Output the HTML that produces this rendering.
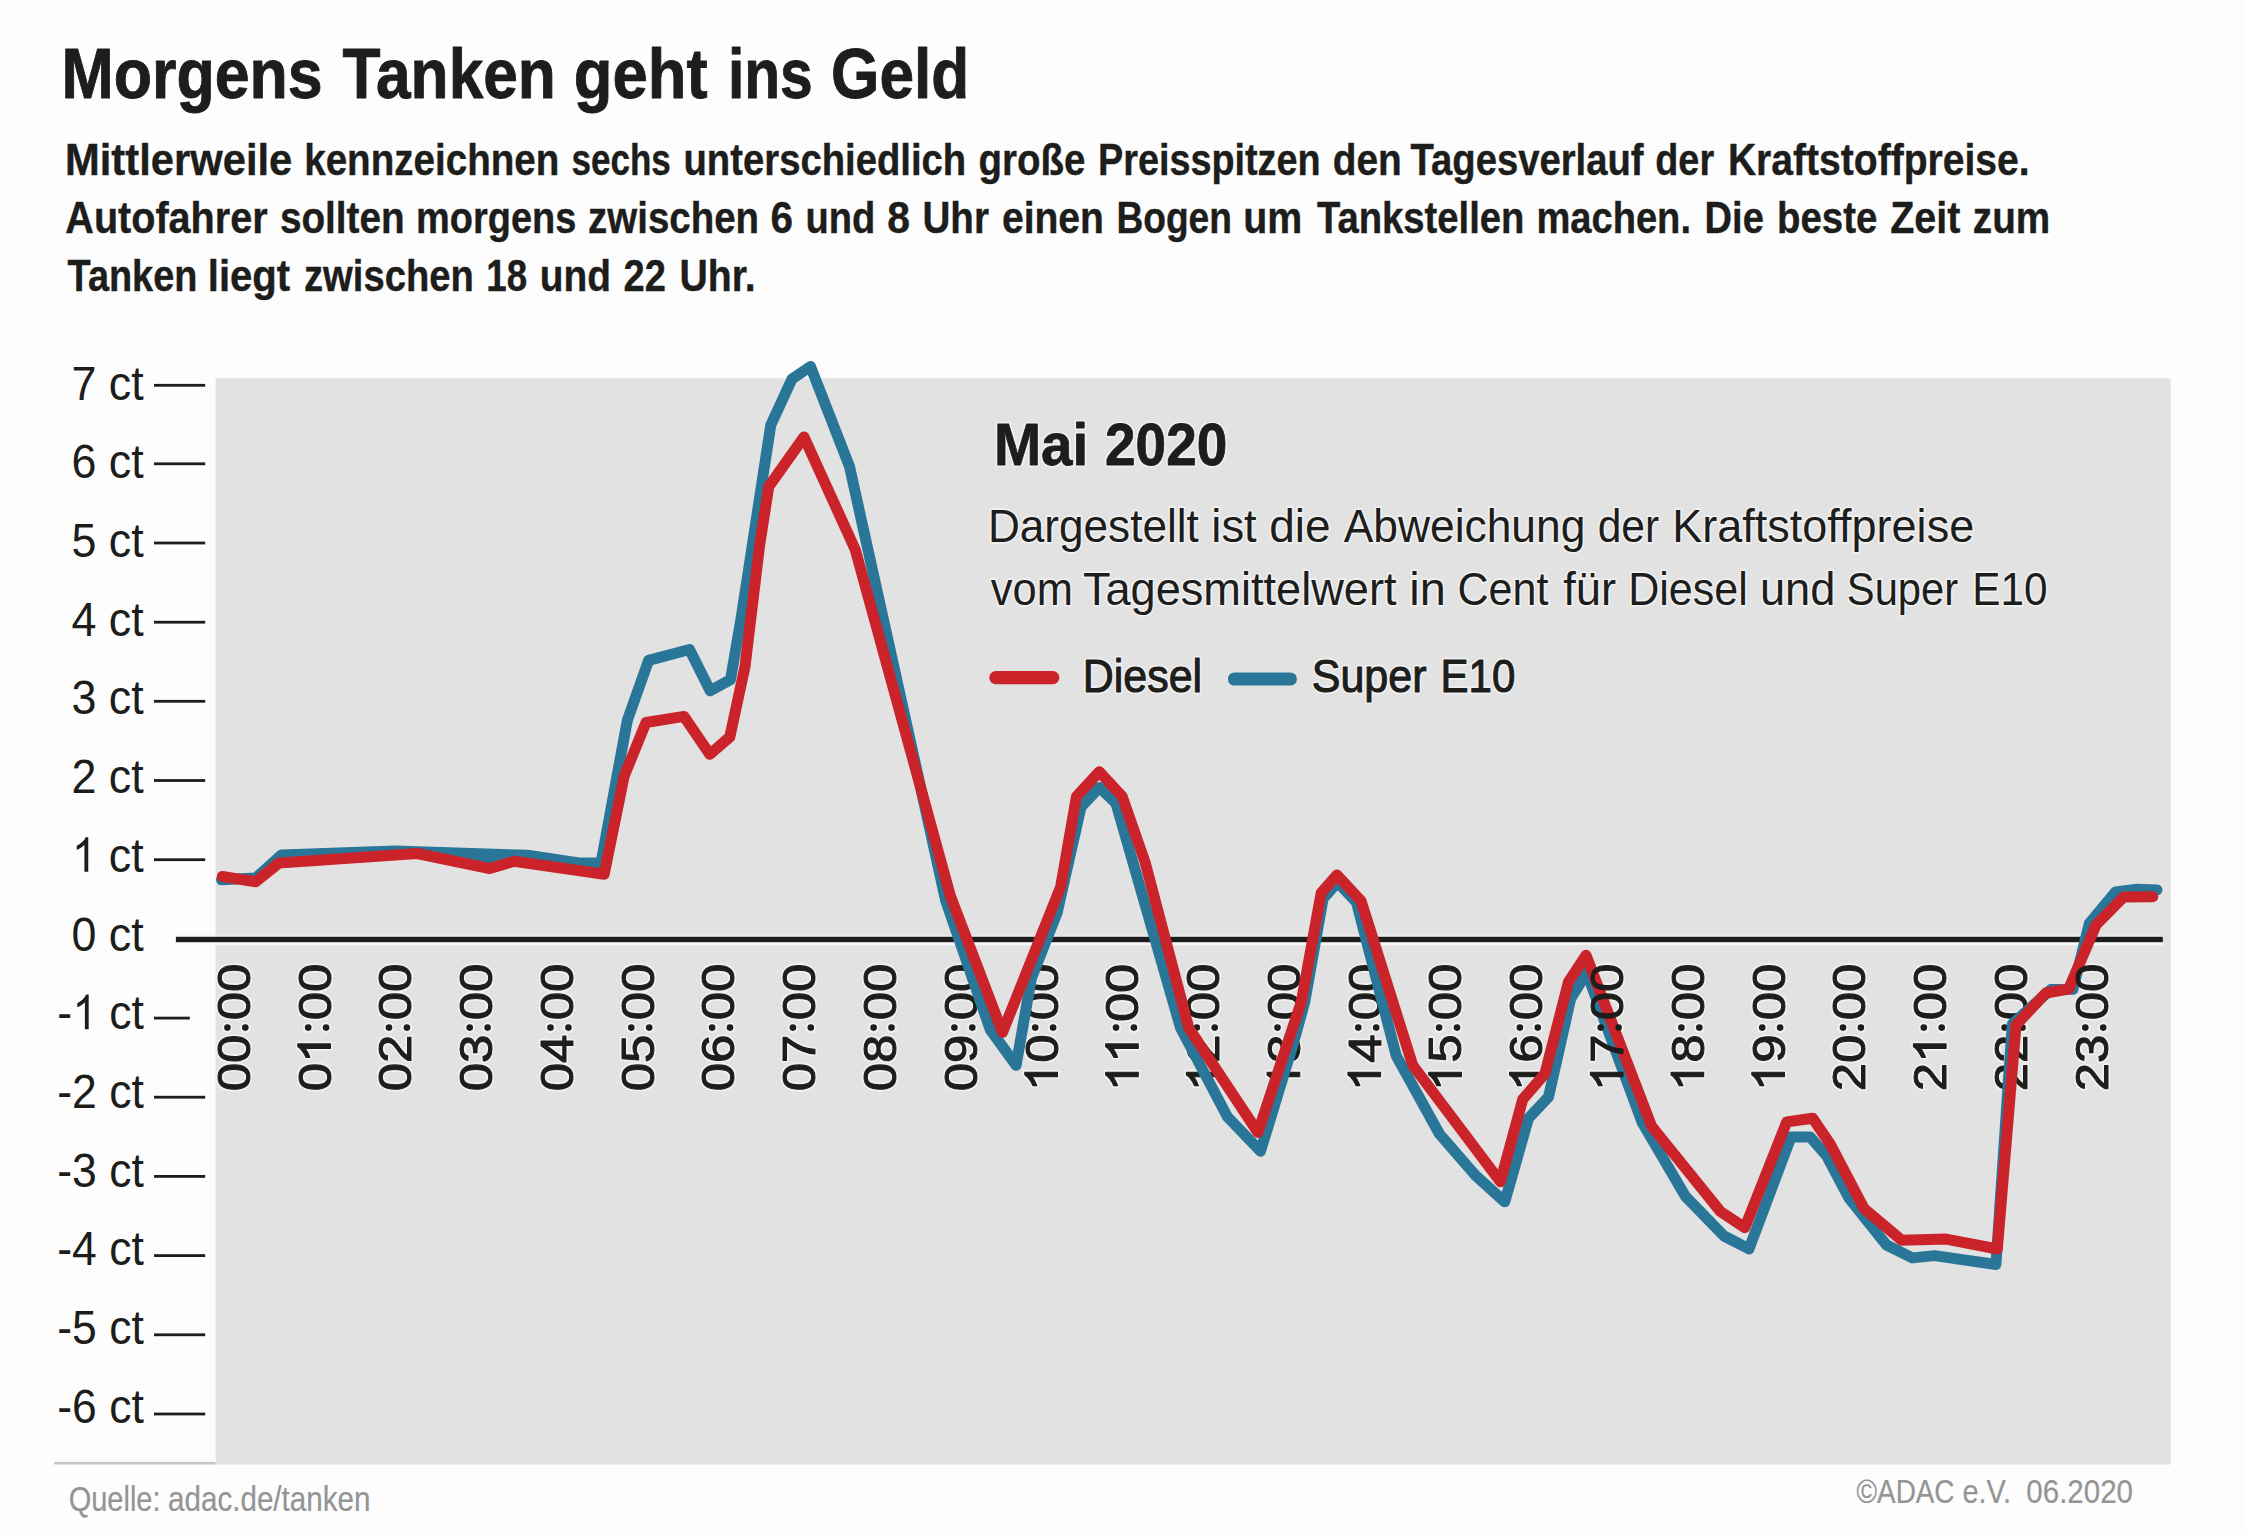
<!DOCTYPE html>
<html lang="de"><head><meta charset="utf-8"><title>Morgens Tanken geht ins Geld</title>
<style>
html,body{margin:0;padding:0;background:#fdfdfd;}
body{width:2244px;height:1535px;overflow:hidden;}
svg{display:block;}
text{font-family:"Liberation Sans",sans-serif;fill:#1d1d1b;stroke-linejoin:round;}
.b{font-weight:bold;}
.yl{font-size:48.3px;}
.xl{font-size:45.5px;stroke:#1d1d1b;stroke-width:1px;}
.xh{font-size:45.5px;}
.ft{fill:#949494;}
</style></head><body>
<svg width="2244" height="1535" viewBox="0 0 2244 1535">
<rect x="0" y="0" width="2244" height="1535" fill="#fdfdfd"/>
<rect x="215.6" y="378.3" width="1955.0" height="1086.2" fill="#e2e2e2"/>
<rect x="54.1" y="1461.9" width="161.6" height="2.6" fill="#c6c6c6"/>
<text class="b" x="61.5" y="98.2" font-size="71" textLength="261.2" lengthAdjust="spacingAndGlyphs" stroke="#1d1d1b" stroke-width="0.9">Morgens</text>
<text class="b" x="342.6" y="98.2" font-size="71" textLength="213.3" lengthAdjust="spacingAndGlyphs" stroke="#1d1d1b" stroke-width="0.9">Tanken</text>
<text class="b" x="573.7" y="98.2" font-size="71" textLength="133.8" lengthAdjust="spacingAndGlyphs" stroke="#1d1d1b" stroke-width="0.9">geht</text>
<text class="b" x="727.9" y="98.2" font-size="71" textLength="84.9" lengthAdjust="spacingAndGlyphs" stroke="#1d1d1b" stroke-width="0.9">ins</text>
<text class="b" x="831.1" y="98.2" font-size="71" textLength="138.2" lengthAdjust="spacingAndGlyphs" stroke="#1d1d1b" stroke-width="0.9">Geld</text>
<text class="b" x="65.0" y="175.3" font-size="43.5" textLength="227.3" lengthAdjust="spacingAndGlyphs" stroke="#1d1d1b" stroke-width="0.4">Mittlerweile</text>
<text class="b" x="304.2" y="175.3" font-size="43.5" textLength="255.2" lengthAdjust="spacingAndGlyphs" stroke="#1d1d1b" stroke-width="0.4">kennzeichnen</text>
<text class="b" x="571.4" y="175.3" font-size="43.5" textLength="99.4" lengthAdjust="spacingAndGlyphs" stroke="#1d1d1b" stroke-width="0.4">sechs</text>
<text class="b" x="683.5" y="175.3" font-size="43.5" textLength="282.7" lengthAdjust="spacingAndGlyphs" stroke="#1d1d1b" stroke-width="0.4">unterschiedlich</text>
<text class="b" x="978.5" y="175.3" font-size="43.5" textLength="106.8" lengthAdjust="spacingAndGlyphs" stroke="#1d1d1b" stroke-width="0.4">große</text>
<text class="b" x="1098.0" y="175.3" font-size="43.5" textLength="222.5" lengthAdjust="spacingAndGlyphs" stroke="#1d1d1b" stroke-width="0.4">Preisspitzen</text>
<text class="b" x="1332.7" y="175.3" font-size="43.5" textLength="69.0" lengthAdjust="spacingAndGlyphs" stroke="#1d1d1b" stroke-width="0.4">den</text>
<text class="b" x="1410.5" y="175.3" font-size="43.5" textLength="233.1" lengthAdjust="spacingAndGlyphs" stroke="#1d1d1b" stroke-width="0.4">Tagesverlauf</text>
<text class="b" x="1655.3" y="175.3" font-size="43.5" textLength="58.8" lengthAdjust="spacingAndGlyphs" stroke="#1d1d1b" stroke-width="0.4">der</text>
<text class="b" x="1727.9" y="175.3" font-size="43.5" textLength="301.8" lengthAdjust="spacingAndGlyphs" stroke="#1d1d1b" stroke-width="0.4">Kraftstoffpreise.</text>
<text class="b" x="65.3" y="233.1" font-size="43.5" textLength="202.3" lengthAdjust="spacingAndGlyphs" stroke="#1d1d1b" stroke-width="0.4">Autofahrer</text>
<text class="b" x="279.9" y="233.1" font-size="43.5" textLength="124.8" lengthAdjust="spacingAndGlyphs" stroke="#1d1d1b" stroke-width="0.4">sollten</text>
<text class="b" x="416.1" y="233.1" font-size="43.5" textLength="160.2" lengthAdjust="spacingAndGlyphs" stroke="#1d1d1b" stroke-width="0.4">morgens</text>
<text class="b" x="588.1" y="233.1" font-size="43.5" textLength="170.9" lengthAdjust="spacingAndGlyphs" stroke="#1d1d1b" stroke-width="0.4">zwischen</text>
<text class="b" x="770.4" y="233.1" font-size="43.5" textLength="22.5" lengthAdjust="spacingAndGlyphs" stroke="#1d1d1b" stroke-width="0.4">6</text>
<text class="b" x="805.5" y="233.1" font-size="43.5" textLength="69.8" lengthAdjust="spacingAndGlyphs" stroke="#1d1d1b" stroke-width="0.4">und</text>
<text class="b" x="887.3" y="233.1" font-size="43.5" textLength="22.7" lengthAdjust="spacingAndGlyphs" stroke="#1d1d1b" stroke-width="0.4">8</text>
<text class="b" x="922.5" y="233.1" font-size="43.5" textLength="66.4" lengthAdjust="spacingAndGlyphs" stroke="#1d1d1b" stroke-width="0.4">Uhr</text>
<text class="b" x="1001.9" y="233.1" font-size="43.5" textLength="102.1" lengthAdjust="spacingAndGlyphs" stroke="#1d1d1b" stroke-width="0.4">einen</text>
<text class="b" x="1116.4" y="233.1" font-size="43.5" textLength="115.5" lengthAdjust="spacingAndGlyphs" stroke="#1d1d1b" stroke-width="0.4">Bogen</text>
<text class="b" x="1243.3" y="233.1" font-size="43.5" textLength="59.0" lengthAdjust="spacingAndGlyphs" stroke="#1d1d1b" stroke-width="0.4">um</text>
<text class="b" x="1316.9" y="233.1" font-size="43.5" textLength="207.5" lengthAdjust="spacingAndGlyphs" stroke="#1d1d1b" stroke-width="0.4">Tankstellen</text>
<text class="b" x="1536.4" y="233.1" font-size="43.5" textLength="154.6" lengthAdjust="spacingAndGlyphs" stroke="#1d1d1b" stroke-width="0.4">machen.</text>
<text class="b" x="1704.6" y="233.1" font-size="43.5" textLength="59.2" lengthAdjust="spacingAndGlyphs" stroke="#1d1d1b" stroke-width="0.4">Die</text>
<text class="b" x="1777.0" y="233.1" font-size="43.5" textLength="100.3" lengthAdjust="spacingAndGlyphs" stroke="#1d1d1b" stroke-width="0.4">beste</text>
<text class="b" x="1890.2" y="233.1" font-size="43.5" textLength="70.1" lengthAdjust="spacingAndGlyphs" stroke="#1d1d1b" stroke-width="0.4">Zeit</text>
<text class="b" x="1972.8" y="233.1" font-size="43.5" textLength="77.4" lengthAdjust="spacingAndGlyphs" stroke="#1d1d1b" stroke-width="0.4">zum</text>
<text class="b" x="67.6" y="291.0" font-size="43.5" textLength="129.8" lengthAdjust="spacingAndGlyphs" stroke="#1d1d1b" stroke-width="0.4">Tanken</text>
<text class="b" x="207.8" y="291.0" font-size="43.5" textLength="82.4" lengthAdjust="spacingAndGlyphs" stroke="#1d1d1b" stroke-width="0.4">liegt</text>
<text class="b" x="304.0" y="291.0" font-size="43.5" textLength="169.8" lengthAdjust="spacingAndGlyphs" stroke="#1d1d1b" stroke-width="0.4">zwischen</text>
<text class="b" x="486.3" y="291.0" font-size="43.5" textLength="40.8" lengthAdjust="spacingAndGlyphs" stroke="#1d1d1b" stroke-width="0.4">18</text>
<text class="b" x="539.7" y="291.0" font-size="43.5" textLength="71.2" lengthAdjust="spacingAndGlyphs" stroke="#1d1d1b" stroke-width="0.4">und</text>
<text class="b" x="623.5" y="291.0" font-size="43.5" textLength="42.3" lengthAdjust="spacingAndGlyphs" stroke="#1d1d1b" stroke-width="0.4">22</text>
<text class="b" x="679.4" y="291.0" font-size="43.5" textLength="76.3" lengthAdjust="spacingAndGlyphs" stroke="#1d1d1b" stroke-width="0.4">Uhr.</text>
<text class="yl" x="71.4" y="399.6" textLength="72.3" lengthAdjust="spacingAndGlyphs">7 ct</text>
<rect x="154" y="383.9" width="51.2" height="2.8" fill="#1d1d1b"/>
<text class="yl" x="71.4" y="478.3" textLength="72.3" lengthAdjust="spacingAndGlyphs">6 ct</text>
<rect x="154" y="462.4" width="51.2" height="2.8" fill="#1d1d1b"/>
<text class="yl" x="71.4" y="557.0" textLength="72.3" lengthAdjust="spacingAndGlyphs">5 ct</text>
<rect x="154" y="541.6" width="51.2" height="2.8" fill="#1d1d1b"/>
<text class="yl" x="71.4" y="635.7" textLength="72.3" lengthAdjust="spacingAndGlyphs">4 ct</text>
<rect x="154" y="620.8" width="51.2" height="2.8" fill="#1d1d1b"/>
<text class="yl" x="71.4" y="714.4" textLength="72.3" lengthAdjust="spacingAndGlyphs">3 ct</text>
<rect x="154" y="699.9" width="51.2" height="2.8" fill="#1d1d1b"/>
<text class="yl" x="71.4" y="793.1" textLength="72.3" lengthAdjust="spacingAndGlyphs">2 ct</text>
<rect x="154" y="779.1" width="51.2" height="2.8" fill="#1d1d1b"/>
<path d="M763 0L583 0L583 1147Q518 1085 412.5 1023Q307 961 223 930L223 1104Q374 1175 487 1276Q600 1377 647 1472L763 1472Z" transform="translate(72.04,871.86) scale(0.02125,-0.02358)" fill="#1d1d1b"/>
<text class="yl" x="71.4" y="871.9" textLength="72.3" lengthAdjust="spacingAndGlyphs"><tspan style="fill:none;stroke:none">1</tspan> ct</text>
<rect x="154" y="858.3" width="51.2" height="2.8" fill="#1d1d1b"/>
<text class="yl" x="71.4" y="950.6" textLength="72.3" lengthAdjust="spacingAndGlyphs">0 ct</text>
<path d="M763 0L583 0L583 1147Q518 1085 412.5 1023Q307 961 223 930L223 1104Q374 1175 487 1276Q600 1377 647 1472L763 1472Z" transform="translate(72.59,1029.28) scale(0.02109,-0.02358)" fill="#1d1d1b"/>
<text class="yl" x="57.2" y="1029.3" textLength="86.6" lengthAdjust="spacingAndGlyphs">-<tspan style="fill:none;stroke:none">1</tspan> ct</text>
<rect x="154" y="1016.7" width="35.8" height="2.8" fill="#1d1d1b"/>
<text class="yl" x="57.2" y="1108.0" textLength="86.6" lengthAdjust="spacingAndGlyphs">-2 ct</text>
<rect x="154" y="1095.8" width="51.2" height="2.8" fill="#1d1d1b"/>
<text class="yl" x="57.2" y="1186.7" textLength="86.6" lengthAdjust="spacingAndGlyphs">-3 ct</text>
<rect x="154" y="1175.0" width="51.2" height="2.8" fill="#1d1d1b"/>
<text class="yl" x="57.2" y="1265.4" textLength="86.6" lengthAdjust="spacingAndGlyphs">-4 ct</text>
<rect x="154" y="1254.2" width="51.2" height="2.8" fill="#1d1d1b"/>
<text class="yl" x="57.2" y="1344.1" textLength="86.6" lengthAdjust="spacingAndGlyphs">-5 ct</text>
<rect x="154" y="1333.4" width="51.2" height="2.8" fill="#1d1d1b"/>
<text class="yl" x="57.2" y="1422.8" textLength="86.6" lengthAdjust="spacingAndGlyphs">-6 ct</text>
<rect x="154" y="1412.6" width="51.2" height="2.8" fill="#1d1d1b"/>
<g transform="translate(249.7,1091.2) rotate(-90)" stroke="#f4f4f4" stroke-width="4.2" stroke-linejoin="round" opacity="0.85" fill="#f4f4f4"><text class="xh" x="0" y="0" textLength="127.5" lengthAdjust="spacingAndGlyphs">00<tspan style="fill:none;stroke:none">:</tspan>00</text><circle cx="63.6" cy="-22.3" r="3.3"/><circle cx="63.6" cy="-4.4" r="3.3"/></g>
<g transform="translate(330.5,1091.2) rotate(-90)" stroke="#f4f4f4" stroke-width="4.2" stroke-linejoin="round" opacity="0.85" fill="#f4f4f4"><path d="M763 0L583 0L583 1147Q518 1085 412.5 1023Q307 961 223 930L223 1104Q374 1175 487 1276Q600 1377 647 1472L763 1472Z" transform="translate(28.33,0.00) scale(0.02488,-0.02222)"   stroke-width="189" stroke-linejoin="round"/><text class="xh" x="0" y="0" textLength="127.5" lengthAdjust="spacingAndGlyphs">0<tspan style="fill:none;stroke:none">1</tspan><tspan style="fill:none;stroke:none">:</tspan>00</text><circle cx="63.6" cy="-22.3" r="3.3"/><circle cx="63.6" cy="-4.4" r="3.3"/></g>
<g transform="translate(411.3,1091.2) rotate(-90)" stroke="#f4f4f4" stroke-width="4.2" stroke-linejoin="round" opacity="0.85" fill="#f4f4f4"><text class="xh" x="0" y="0" textLength="127.5" lengthAdjust="spacingAndGlyphs">02<tspan style="fill:none;stroke:none">:</tspan>00</text><circle cx="63.6" cy="-22.3" r="3.3"/><circle cx="63.6" cy="-4.4" r="3.3"/></g>
<g transform="translate(492.0,1091.2) rotate(-90)" stroke="#f4f4f4" stroke-width="4.2" stroke-linejoin="round" opacity="0.85" fill="#f4f4f4"><text class="xh" x="0" y="0" textLength="127.5" lengthAdjust="spacingAndGlyphs">03<tspan style="fill:none;stroke:none">:</tspan>00</text><circle cx="63.6" cy="-22.3" r="3.3"/><circle cx="63.6" cy="-4.4" r="3.3"/></g>
<g transform="translate(572.8,1091.2) rotate(-90)" stroke="#f4f4f4" stroke-width="4.2" stroke-linejoin="round" opacity="0.85" fill="#f4f4f4"><text class="xh" x="0" y="0" textLength="127.5" lengthAdjust="spacingAndGlyphs">04<tspan style="fill:none;stroke:none">:</tspan>00</text><circle cx="63.6" cy="-22.3" r="3.3"/><circle cx="63.6" cy="-4.4" r="3.3"/></g>
<g transform="translate(653.6,1091.2) rotate(-90)" stroke="#f4f4f4" stroke-width="4.2" stroke-linejoin="round" opacity="0.85" fill="#f4f4f4"><text class="xh" x="0" y="0" textLength="127.5" lengthAdjust="spacingAndGlyphs">05<tspan style="fill:none;stroke:none">:</tspan>00</text><circle cx="63.6" cy="-22.3" r="3.3"/><circle cx="63.6" cy="-4.4" r="3.3"/></g>
<g transform="translate(734.4,1091.2) rotate(-90)" stroke="#f4f4f4" stroke-width="4.2" stroke-linejoin="round" opacity="0.85" fill="#f4f4f4"><text class="xh" x="0" y="0" textLength="127.5" lengthAdjust="spacingAndGlyphs">06<tspan style="fill:none;stroke:none">:</tspan>00</text><circle cx="63.6" cy="-22.3" r="3.3"/><circle cx="63.6" cy="-4.4" r="3.3"/></g>
<g transform="translate(815.2,1091.2) rotate(-90)" stroke="#f4f4f4" stroke-width="4.2" stroke-linejoin="round" opacity="0.85" fill="#f4f4f4"><text class="xh" x="0" y="0" textLength="127.5" lengthAdjust="spacingAndGlyphs">07<tspan style="fill:none;stroke:none">:</tspan>00</text><circle cx="63.6" cy="-22.3" r="3.3"/><circle cx="63.6" cy="-4.4" r="3.3"/></g>
<g transform="translate(895.9,1091.2) rotate(-90)" stroke="#f4f4f4" stroke-width="4.2" stroke-linejoin="round" opacity="0.85" fill="#f4f4f4"><text class="xh" x="0" y="0" textLength="127.5" lengthAdjust="spacingAndGlyphs">08<tspan style="fill:none;stroke:none">:</tspan>00</text><circle cx="63.6" cy="-22.3" r="3.3"/><circle cx="63.6" cy="-4.4" r="3.3"/></g>
<g transform="translate(976.7,1091.2) rotate(-90)" stroke="#f4f4f4" stroke-width="4.2" stroke-linejoin="round" opacity="0.85" fill="#f4f4f4"><text class="xh" x="0" y="0" textLength="127.5" lengthAdjust="spacingAndGlyphs">09<tspan style="fill:none;stroke:none">:</tspan>00</text><circle cx="63.6" cy="-22.3" r="3.3"/><circle cx="63.6" cy="-4.4" r="3.3"/></g>
<g transform="translate(1057.5,1091.2) rotate(-90)" stroke="#f4f4f4" stroke-width="4.2" stroke-linejoin="round" opacity="0.85" fill="#f4f4f4"><path d="M763 0L583 0L583 1147Q518 1085 412.5 1023Q307 961 223 930L223 1104Q374 1175 487 1276Q600 1377 647 1472L763 1472Z" transform="translate(0.00,0.00) scale(0.02488,-0.02222)"   stroke-width="189" stroke-linejoin="round"/><text class="xh" x="0" y="0" textLength="127.5" lengthAdjust="spacingAndGlyphs"><tspan style="fill:none;stroke:none">1</tspan>0<tspan style="fill:none;stroke:none">:</tspan>00</text><circle cx="63.6" cy="-22.3" r="3.3"/><circle cx="63.6" cy="-4.4" r="3.3"/></g>
<g transform="translate(1138.3,1091.2) rotate(-90)" stroke="#f4f4f4" stroke-width="4.2" stroke-linejoin="round" opacity="0.85" fill="#f4f4f4"><path d="M763 0L583 0L583 1147Q518 1085 412.5 1023Q307 961 223 930L223 1104Q374 1175 487 1276Q600 1377 647 1472L763 1472Z" transform="translate(0.00,0.00) scale(0.02488,-0.02222)"   stroke-width="189" stroke-linejoin="round"/><path d="M763 0L583 0L583 1147Q518 1085 412.5 1023Q307 961 223 930L223 1104Q374 1175 487 1276Q600 1377 647 1472L763 1472Z" transform="translate(28.33,0.00) scale(0.02488,-0.02222)"   stroke-width="189" stroke-linejoin="round"/><text class="xh" x="0" y="0" textLength="127.5" lengthAdjust="spacingAndGlyphs"><tspan style="fill:none;stroke:none">1</tspan><tspan style="fill:none;stroke:none">1</tspan><tspan style="fill:none;stroke:none">:</tspan>00</text><circle cx="63.6" cy="-22.3" r="3.3"/><circle cx="63.6" cy="-4.4" r="3.3"/></g>
<g transform="translate(1219.1,1091.2) rotate(-90)" stroke="#f4f4f4" stroke-width="4.2" stroke-linejoin="round" opacity="0.85" fill="#f4f4f4"><path d="M763 0L583 0L583 1147Q518 1085 412.5 1023Q307 961 223 930L223 1104Q374 1175 487 1276Q600 1377 647 1472L763 1472Z" transform="translate(0.00,0.00) scale(0.02488,-0.02222)"   stroke-width="189" stroke-linejoin="round"/><text class="xh" x="0" y="0" textLength="127.5" lengthAdjust="spacingAndGlyphs"><tspan style="fill:none;stroke:none">1</tspan>2<tspan style="fill:none;stroke:none">:</tspan>00</text><circle cx="63.6" cy="-22.3" r="3.3"/><circle cx="63.6" cy="-4.4" r="3.3"/></g>
<g transform="translate(1299.8,1091.2) rotate(-90)" stroke="#f4f4f4" stroke-width="4.2" stroke-linejoin="round" opacity="0.85" fill="#f4f4f4"><path d="M763 0L583 0L583 1147Q518 1085 412.5 1023Q307 961 223 930L223 1104Q374 1175 487 1276Q600 1377 647 1472L763 1472Z" transform="translate(0.00,0.00) scale(0.02488,-0.02222)"   stroke-width="189" stroke-linejoin="round"/><text class="xh" x="0" y="0" textLength="127.5" lengthAdjust="spacingAndGlyphs"><tspan style="fill:none;stroke:none">1</tspan>3<tspan style="fill:none;stroke:none">:</tspan>00</text><circle cx="63.6" cy="-22.3" r="3.3"/><circle cx="63.6" cy="-4.4" r="3.3"/></g>
<g transform="translate(1380.6,1091.2) rotate(-90)" stroke="#f4f4f4" stroke-width="4.2" stroke-linejoin="round" opacity="0.85" fill="#f4f4f4"><path d="M763 0L583 0L583 1147Q518 1085 412.5 1023Q307 961 223 930L223 1104Q374 1175 487 1276Q600 1377 647 1472L763 1472Z" transform="translate(0.00,0.00) scale(0.02488,-0.02222)"   stroke-width="189" stroke-linejoin="round"/><text class="xh" x="0" y="0" textLength="127.5" lengthAdjust="spacingAndGlyphs"><tspan style="fill:none;stroke:none">1</tspan>4<tspan style="fill:none;stroke:none">:</tspan>00</text><circle cx="63.6" cy="-22.3" r="3.3"/><circle cx="63.6" cy="-4.4" r="3.3"/></g>
<g transform="translate(1461.4,1091.2) rotate(-90)" stroke="#f4f4f4" stroke-width="4.2" stroke-linejoin="round" opacity="0.85" fill="#f4f4f4"><path d="M763 0L583 0L583 1147Q518 1085 412.5 1023Q307 961 223 930L223 1104Q374 1175 487 1276Q600 1377 647 1472L763 1472Z" transform="translate(0.00,0.00) scale(0.02488,-0.02222)"   stroke-width="189" stroke-linejoin="round"/><text class="xh" x="0" y="0" textLength="127.5" lengthAdjust="spacingAndGlyphs"><tspan style="fill:none;stroke:none">1</tspan>5<tspan style="fill:none;stroke:none">:</tspan>00</text><circle cx="63.6" cy="-22.3" r="3.3"/><circle cx="63.6" cy="-4.4" r="3.3"/></g>
<g transform="translate(1542.2,1091.2) rotate(-90)" stroke="#f4f4f4" stroke-width="4.2" stroke-linejoin="round" opacity="0.85" fill="#f4f4f4"><path d="M763 0L583 0L583 1147Q518 1085 412.5 1023Q307 961 223 930L223 1104Q374 1175 487 1276Q600 1377 647 1472L763 1472Z" transform="translate(0.00,0.00) scale(0.02488,-0.02222)"   stroke-width="189" stroke-linejoin="round"/><text class="xh" x="0" y="0" textLength="127.5" lengthAdjust="spacingAndGlyphs"><tspan style="fill:none;stroke:none">1</tspan>6<tspan style="fill:none;stroke:none">:</tspan>00</text><circle cx="63.6" cy="-22.3" r="3.3"/><circle cx="63.6" cy="-4.4" r="3.3"/></g>
<g transform="translate(1623.0,1091.2) rotate(-90)" stroke="#f4f4f4" stroke-width="4.2" stroke-linejoin="round" opacity="0.85" fill="#f4f4f4"><path d="M763 0L583 0L583 1147Q518 1085 412.5 1023Q307 961 223 930L223 1104Q374 1175 487 1276Q600 1377 647 1472L763 1472Z" transform="translate(0.00,0.00) scale(0.02488,-0.02222)"   stroke-width="189" stroke-linejoin="round"/><text class="xh" x="0" y="0" textLength="127.5" lengthAdjust="spacingAndGlyphs"><tspan style="fill:none;stroke:none">1</tspan>7<tspan style="fill:none;stroke:none">:</tspan>00</text><circle cx="63.6" cy="-22.3" r="3.3"/><circle cx="63.6" cy="-4.4" r="3.3"/></g>
<g transform="translate(1703.7,1091.2) rotate(-90)" stroke="#f4f4f4" stroke-width="4.2" stroke-linejoin="round" opacity="0.85" fill="#f4f4f4"><path d="M763 0L583 0L583 1147Q518 1085 412.5 1023Q307 961 223 930L223 1104Q374 1175 487 1276Q600 1377 647 1472L763 1472Z" transform="translate(0.00,0.00) scale(0.02488,-0.02222)"   stroke-width="189" stroke-linejoin="round"/><text class="xh" x="0" y="0" textLength="127.5" lengthAdjust="spacingAndGlyphs"><tspan style="fill:none;stroke:none">1</tspan>8<tspan style="fill:none;stroke:none">:</tspan>00</text><circle cx="63.6" cy="-22.3" r="3.3"/><circle cx="63.6" cy="-4.4" r="3.3"/></g>
<g transform="translate(1784.5,1091.2) rotate(-90)" stroke="#f4f4f4" stroke-width="4.2" stroke-linejoin="round" opacity="0.85" fill="#f4f4f4"><path d="M763 0L583 0L583 1147Q518 1085 412.5 1023Q307 961 223 930L223 1104Q374 1175 487 1276Q600 1377 647 1472L763 1472Z" transform="translate(0.00,0.00) scale(0.02488,-0.02222)"   stroke-width="189" stroke-linejoin="round"/><text class="xh" x="0" y="0" textLength="127.5" lengthAdjust="spacingAndGlyphs"><tspan style="fill:none;stroke:none">1</tspan>9<tspan style="fill:none;stroke:none">:</tspan>00</text><circle cx="63.6" cy="-22.3" r="3.3"/><circle cx="63.6" cy="-4.4" r="3.3"/></g>
<g transform="translate(1865.3,1091.2) rotate(-90)" stroke="#f4f4f4" stroke-width="4.2" stroke-linejoin="round" opacity="0.85" fill="#f4f4f4"><text class="xh" x="0" y="0" textLength="127.5" lengthAdjust="spacingAndGlyphs">20<tspan style="fill:none;stroke:none">:</tspan>00</text><circle cx="63.6" cy="-22.3" r="3.3"/><circle cx="63.6" cy="-4.4" r="3.3"/></g>
<g transform="translate(1946.1,1091.2) rotate(-90)" stroke="#f4f4f4" stroke-width="4.2" stroke-linejoin="round" opacity="0.85" fill="#f4f4f4"><path d="M763 0L583 0L583 1147Q518 1085 412.5 1023Q307 961 223 930L223 1104Q374 1175 487 1276Q600 1377 647 1472L763 1472Z" transform="translate(28.33,0.00) scale(0.02488,-0.02222)"   stroke-width="189" stroke-linejoin="round"/><text class="xh" x="0" y="0" textLength="127.5" lengthAdjust="spacingAndGlyphs">2<tspan style="fill:none;stroke:none">1</tspan><tspan style="fill:none;stroke:none">:</tspan>00</text><circle cx="63.6" cy="-22.3" r="3.3"/><circle cx="63.6" cy="-4.4" r="3.3"/></g>
<g transform="translate(2026.9,1091.2) rotate(-90)" stroke="#f4f4f4" stroke-width="4.2" stroke-linejoin="round" opacity="0.85" fill="#f4f4f4"><text class="xh" x="0" y="0" textLength="127.5" lengthAdjust="spacingAndGlyphs">22<tspan style="fill:none;stroke:none">:</tspan>00</text><circle cx="63.6" cy="-22.3" r="3.3"/><circle cx="63.6" cy="-4.4" r="3.3"/></g>
<g transform="translate(2107.6,1091.2) rotate(-90)" stroke="#f4f4f4" stroke-width="4.2" stroke-linejoin="round" opacity="0.85" fill="#f4f4f4"><text class="xh" x="0" y="0" textLength="127.5" lengthAdjust="spacingAndGlyphs">23<tspan style="fill:none;stroke:none">:</tspan>00</text><circle cx="63.6" cy="-22.3" r="3.3"/><circle cx="63.6" cy="-4.4" r="3.3"/></g>
<g transform="translate(249.7,1091.2) rotate(-90)"><text class="xl" x="0" y="0" textLength="127.5" lengthAdjust="spacingAndGlyphs">00<tspan style="fill:none;stroke:none">:</tspan>00</text><circle cx="63.6" cy="-22.3" r="3.3" fill="#1d1d1b"/><circle cx="63.6" cy="-4.4" r="3.3" fill="#1d1d1b"/></g>
<g transform="translate(330.5,1091.2) rotate(-90)"><path d="M763 0L583 0L583 1147Q518 1085 412.5 1023Q307 961 223 930L223 1104Q374 1175 487 1276Q600 1377 647 1472L763 1472Z" transform="translate(28.33,0.00) scale(0.02488,-0.02222)" fill="#1d1d1b" stroke="#1d1d1b" stroke-width="45.0" stroke-linejoin="round"/><text class="xl" x="0" y="0" textLength="127.5" lengthAdjust="spacingAndGlyphs">0<tspan style="fill:none;stroke:none">1</tspan><tspan style="fill:none;stroke:none">:</tspan>00</text><circle cx="63.6" cy="-22.3" r="3.3" fill="#1d1d1b"/><circle cx="63.6" cy="-4.4" r="3.3" fill="#1d1d1b"/></g>
<g transform="translate(411.3,1091.2) rotate(-90)"><text class="xl" x="0" y="0" textLength="127.5" lengthAdjust="spacingAndGlyphs">02<tspan style="fill:none;stroke:none">:</tspan>00</text><circle cx="63.6" cy="-22.3" r="3.3" fill="#1d1d1b"/><circle cx="63.6" cy="-4.4" r="3.3" fill="#1d1d1b"/></g>
<g transform="translate(492.0,1091.2) rotate(-90)"><text class="xl" x="0" y="0" textLength="127.5" lengthAdjust="spacingAndGlyphs">03<tspan style="fill:none;stroke:none">:</tspan>00</text><circle cx="63.6" cy="-22.3" r="3.3" fill="#1d1d1b"/><circle cx="63.6" cy="-4.4" r="3.3" fill="#1d1d1b"/></g>
<g transform="translate(572.8,1091.2) rotate(-90)"><text class="xl" x="0" y="0" textLength="127.5" lengthAdjust="spacingAndGlyphs">04<tspan style="fill:none;stroke:none">:</tspan>00</text><circle cx="63.6" cy="-22.3" r="3.3" fill="#1d1d1b"/><circle cx="63.6" cy="-4.4" r="3.3" fill="#1d1d1b"/></g>
<g transform="translate(653.6,1091.2) rotate(-90)"><text class="xl" x="0" y="0" textLength="127.5" lengthAdjust="spacingAndGlyphs">05<tspan style="fill:none;stroke:none">:</tspan>00</text><circle cx="63.6" cy="-22.3" r="3.3" fill="#1d1d1b"/><circle cx="63.6" cy="-4.4" r="3.3" fill="#1d1d1b"/></g>
<g transform="translate(734.4,1091.2) rotate(-90)"><text class="xl" x="0" y="0" textLength="127.5" lengthAdjust="spacingAndGlyphs">06<tspan style="fill:none;stroke:none">:</tspan>00</text><circle cx="63.6" cy="-22.3" r="3.3" fill="#1d1d1b"/><circle cx="63.6" cy="-4.4" r="3.3" fill="#1d1d1b"/></g>
<g transform="translate(815.2,1091.2) rotate(-90)"><text class="xl" x="0" y="0" textLength="127.5" lengthAdjust="spacingAndGlyphs">07<tspan style="fill:none;stroke:none">:</tspan>00</text><circle cx="63.6" cy="-22.3" r="3.3" fill="#1d1d1b"/><circle cx="63.6" cy="-4.4" r="3.3" fill="#1d1d1b"/></g>
<g transform="translate(895.9,1091.2) rotate(-90)"><text class="xl" x="0" y="0" textLength="127.5" lengthAdjust="spacingAndGlyphs">08<tspan style="fill:none;stroke:none">:</tspan>00</text><circle cx="63.6" cy="-22.3" r="3.3" fill="#1d1d1b"/><circle cx="63.6" cy="-4.4" r="3.3" fill="#1d1d1b"/></g>
<g transform="translate(976.7,1091.2) rotate(-90)"><text class="xl" x="0" y="0" textLength="127.5" lengthAdjust="spacingAndGlyphs">09<tspan style="fill:none;stroke:none">:</tspan>00</text><circle cx="63.6" cy="-22.3" r="3.3" fill="#1d1d1b"/><circle cx="63.6" cy="-4.4" r="3.3" fill="#1d1d1b"/></g>
<g transform="translate(1057.5,1091.2) rotate(-90)"><path d="M763 0L583 0L583 1147Q518 1085 412.5 1023Q307 961 223 930L223 1104Q374 1175 487 1276Q600 1377 647 1472L763 1472Z" transform="translate(0.00,0.00) scale(0.02488,-0.02222)" fill="#1d1d1b" stroke="#1d1d1b" stroke-width="45.0" stroke-linejoin="round"/><text class="xl" x="0" y="0" textLength="127.5" lengthAdjust="spacingAndGlyphs"><tspan style="fill:none;stroke:none">1</tspan>0<tspan style="fill:none;stroke:none">:</tspan>00</text><circle cx="63.6" cy="-22.3" r="3.3" fill="#1d1d1b"/><circle cx="63.6" cy="-4.4" r="3.3" fill="#1d1d1b"/></g>
<g transform="translate(1138.3,1091.2) rotate(-90)"><path d="M763 0L583 0L583 1147Q518 1085 412.5 1023Q307 961 223 930L223 1104Q374 1175 487 1276Q600 1377 647 1472L763 1472Z" transform="translate(0.00,0.00) scale(0.02488,-0.02222)" fill="#1d1d1b" stroke="#1d1d1b" stroke-width="45.0" stroke-linejoin="round"/><path d="M763 0L583 0L583 1147Q518 1085 412.5 1023Q307 961 223 930L223 1104Q374 1175 487 1276Q600 1377 647 1472L763 1472Z" transform="translate(28.33,0.00) scale(0.02488,-0.02222)" fill="#1d1d1b" stroke="#1d1d1b" stroke-width="45.0" stroke-linejoin="round"/><text class="xl" x="0" y="0" textLength="127.5" lengthAdjust="spacingAndGlyphs"><tspan style="fill:none;stroke:none">1</tspan><tspan style="fill:none;stroke:none">1</tspan><tspan style="fill:none;stroke:none">:</tspan>00</text><circle cx="63.6" cy="-22.3" r="3.3" fill="#1d1d1b"/><circle cx="63.6" cy="-4.4" r="3.3" fill="#1d1d1b"/></g>
<g transform="translate(1219.1,1091.2) rotate(-90)"><path d="M763 0L583 0L583 1147Q518 1085 412.5 1023Q307 961 223 930L223 1104Q374 1175 487 1276Q600 1377 647 1472L763 1472Z" transform="translate(0.00,0.00) scale(0.02488,-0.02222)" fill="#1d1d1b" stroke="#1d1d1b" stroke-width="45.0" stroke-linejoin="round"/><text class="xl" x="0" y="0" textLength="127.5" lengthAdjust="spacingAndGlyphs"><tspan style="fill:none;stroke:none">1</tspan>2<tspan style="fill:none;stroke:none">:</tspan>00</text><circle cx="63.6" cy="-22.3" r="3.3" fill="#1d1d1b"/><circle cx="63.6" cy="-4.4" r="3.3" fill="#1d1d1b"/></g>
<g transform="translate(1299.8,1091.2) rotate(-90)"><path d="M763 0L583 0L583 1147Q518 1085 412.5 1023Q307 961 223 930L223 1104Q374 1175 487 1276Q600 1377 647 1472L763 1472Z" transform="translate(0.00,0.00) scale(0.02488,-0.02222)" fill="#1d1d1b" stroke="#1d1d1b" stroke-width="45.0" stroke-linejoin="round"/><text class="xl" x="0" y="0" textLength="127.5" lengthAdjust="spacingAndGlyphs"><tspan style="fill:none;stroke:none">1</tspan>3<tspan style="fill:none;stroke:none">:</tspan>00</text><circle cx="63.6" cy="-22.3" r="3.3" fill="#1d1d1b"/><circle cx="63.6" cy="-4.4" r="3.3" fill="#1d1d1b"/></g>
<g transform="translate(1380.6,1091.2) rotate(-90)"><path d="M763 0L583 0L583 1147Q518 1085 412.5 1023Q307 961 223 930L223 1104Q374 1175 487 1276Q600 1377 647 1472L763 1472Z" transform="translate(0.00,0.00) scale(0.02488,-0.02222)" fill="#1d1d1b" stroke="#1d1d1b" stroke-width="45.0" stroke-linejoin="round"/><text class="xl" x="0" y="0" textLength="127.5" lengthAdjust="spacingAndGlyphs"><tspan style="fill:none;stroke:none">1</tspan>4<tspan style="fill:none;stroke:none">:</tspan>00</text><circle cx="63.6" cy="-22.3" r="3.3" fill="#1d1d1b"/><circle cx="63.6" cy="-4.4" r="3.3" fill="#1d1d1b"/></g>
<g transform="translate(1461.4,1091.2) rotate(-90)"><path d="M763 0L583 0L583 1147Q518 1085 412.5 1023Q307 961 223 930L223 1104Q374 1175 487 1276Q600 1377 647 1472L763 1472Z" transform="translate(0.00,0.00) scale(0.02488,-0.02222)" fill="#1d1d1b" stroke="#1d1d1b" stroke-width="45.0" stroke-linejoin="round"/><text class="xl" x="0" y="0" textLength="127.5" lengthAdjust="spacingAndGlyphs"><tspan style="fill:none;stroke:none">1</tspan>5<tspan style="fill:none;stroke:none">:</tspan>00</text><circle cx="63.6" cy="-22.3" r="3.3" fill="#1d1d1b"/><circle cx="63.6" cy="-4.4" r="3.3" fill="#1d1d1b"/></g>
<g transform="translate(1542.2,1091.2) rotate(-90)"><path d="M763 0L583 0L583 1147Q518 1085 412.5 1023Q307 961 223 930L223 1104Q374 1175 487 1276Q600 1377 647 1472L763 1472Z" transform="translate(0.00,0.00) scale(0.02488,-0.02222)" fill="#1d1d1b" stroke="#1d1d1b" stroke-width="45.0" stroke-linejoin="round"/><text class="xl" x="0" y="0" textLength="127.5" lengthAdjust="spacingAndGlyphs"><tspan style="fill:none;stroke:none">1</tspan>6<tspan style="fill:none;stroke:none">:</tspan>00</text><circle cx="63.6" cy="-22.3" r="3.3" fill="#1d1d1b"/><circle cx="63.6" cy="-4.4" r="3.3" fill="#1d1d1b"/></g>
<g transform="translate(1703.7,1091.2) rotate(-90)"><path d="M763 0L583 0L583 1147Q518 1085 412.5 1023Q307 961 223 930L223 1104Q374 1175 487 1276Q600 1377 647 1472L763 1472Z" transform="translate(0.00,0.00) scale(0.02488,-0.02222)" fill="#1d1d1b" stroke="#1d1d1b" stroke-width="45.0" stroke-linejoin="round"/><text class="xl" x="0" y="0" textLength="127.5" lengthAdjust="spacingAndGlyphs"><tspan style="fill:none;stroke:none">1</tspan>8<tspan style="fill:none;stroke:none">:</tspan>00</text><circle cx="63.6" cy="-22.3" r="3.3" fill="#1d1d1b"/><circle cx="63.6" cy="-4.4" r="3.3" fill="#1d1d1b"/></g>
<g transform="translate(1784.5,1091.2) rotate(-90)"><path d="M763 0L583 0L583 1147Q518 1085 412.5 1023Q307 961 223 930L223 1104Q374 1175 487 1276Q600 1377 647 1472L763 1472Z" transform="translate(0.00,0.00) scale(0.02488,-0.02222)" fill="#1d1d1b" stroke="#1d1d1b" stroke-width="45.0" stroke-linejoin="round"/><text class="xl" x="0" y="0" textLength="127.5" lengthAdjust="spacingAndGlyphs"><tspan style="fill:none;stroke:none">1</tspan>9<tspan style="fill:none;stroke:none">:</tspan>00</text><circle cx="63.6" cy="-22.3" r="3.3" fill="#1d1d1b"/><circle cx="63.6" cy="-4.4" r="3.3" fill="#1d1d1b"/></g>
<g transform="translate(1865.3,1091.2) rotate(-90)"><text class="xl" x="0" y="0" textLength="127.5" lengthAdjust="spacingAndGlyphs">20<tspan style="fill:none;stroke:none">:</tspan>00</text><circle cx="63.6" cy="-22.3" r="3.3" fill="#1d1d1b"/><circle cx="63.6" cy="-4.4" r="3.3" fill="#1d1d1b"/></g>
<g transform="translate(1946.1,1091.2) rotate(-90)"><path d="M763 0L583 0L583 1147Q518 1085 412.5 1023Q307 961 223 930L223 1104Q374 1175 487 1276Q600 1377 647 1472L763 1472Z" transform="translate(28.33,0.00) scale(0.02488,-0.02222)" fill="#1d1d1b" stroke="#1d1d1b" stroke-width="45.0" stroke-linejoin="round"/><text class="xl" x="0" y="0" textLength="127.5" lengthAdjust="spacingAndGlyphs">2<tspan style="fill:none;stroke:none">1</tspan><tspan style="fill:none;stroke:none">:</tspan>00</text><circle cx="63.6" cy="-22.3" r="3.3" fill="#1d1d1b"/><circle cx="63.6" cy="-4.4" r="3.3" fill="#1d1d1b"/></g>
<g transform="translate(2026.9,1091.2) rotate(-90)"><text class="xl" x="0" y="0" textLength="127.5" lengthAdjust="spacingAndGlyphs">22<tspan style="fill:none;stroke:none">:</tspan>00</text><circle cx="63.6" cy="-22.3" r="3.3" fill="#1d1d1b"/><circle cx="63.6" cy="-4.4" r="3.3" fill="#1d1d1b"/></g>
<rect x="175.9" y="935.3" width="1986.9" height="2" fill="#f1f1f1" opacity="0.7"/>
<rect x="175.9" y="941.8" width="1986.9" height="3.5" fill="#fafafa" opacity="0.9"/>
<rect x="175.9" y="936.8" width="1986.9" height="5.4" fill="#1d1d1b"/>
<polyline fill="none" stroke="#2a7699" stroke-width="9" stroke-linejoin="round" points="440,853.6 489.7,860.2 514.2,857.2 527.5,856.5"/>
<polyline fill="none" stroke="#2a7699" stroke-width="11" stroke-linejoin="round" stroke-linecap="round" points="221.5,879.8 255.7,878.0 281.3,855.0 395.0,851.0 527.5,855.3 578.8,862.9 601.0,862.9 627.3,720.5 648.6,660.4 689.5,649.5 710.2,690.8 730.5,679.6 741.0,619.0 770.8,425.0 792.0,379.0 810.5,366.5 849.5,466.5 945.7,900.7 990.3,1029.8 1016.1,1065.2 1031.4,978.2 1057.2,912.5 1081.0,807.0 1099.3,787.4 1116.0,803.4 1180.5,1027.7 1227.4,1116.8 1260.5,1151.2 1293.1,1044.1 1304.8,1001.9 1323.1,898.6 1337.7,882.2 1356.4,902.2 1396.3,1055.8 1439.5,1134.0 1475.7,1175.6 1504.8,1201.8 1528.5,1118.2 1548.5,1097.0 1570.7,998.5 1586.7,972.7 1642.3,1122.8 1685.7,1196.7 1724.0,1236.0 1749.0,1248.9 1791.0,1137.1 1810.3,1137.1 1826.7,1155.9 1849.0,1198.1 1886.5,1245.0 1912.3,1257.9 1934.6,1255.6 1995.9,1264.5 2012.3,1024.0 2051.0,989.5 2073.0,989.3 2089.3,923.5 2115.5,892.0 2137.0,889.2 2157.0,889.9"/>
<polyline fill="none" stroke="#ca232a" stroke-width="11" stroke-linejoin="round" stroke-linecap="round" points="222.3,876.5 255.7,881.8 279.1,862.9 417.2,853.5 489.7,868.5 514.2,861.3 604.2,874.2 624.2,776.0 646.0,722.5 684.0,716.4 709.8,754.3 729.8,737.0 745.0,666.5 759.6,545.4 768.8,486.5 804.0,437.0 855.3,549.7 950.4,896.0 1002.5,1032.4 1060.7,886.7 1076.5,796.5 1099.3,771.8 1122.2,796.5 1145.0,862.0 1188.7,1027.7 1257.9,1132.4 1301.3,1001.9 1321.2,892.8 1337.0,875.0 1361.1,901.0 1412.7,1065.2 1500.4,1181.8 1522.7,1099.4 1545.0,1073.6 1568.4,982.1 1586.0,955.3 1651.7,1126.4 1720.4,1211.5 1744.8,1227.7 1786.8,1121.9 1812.6,1118.2 1830.2,1144.1 1864.2,1208.7 1901.7,1240.3 1946.3,1239.1 1997.3,1249.0 2016.0,1025.0 2045.9,993.0 2068.7,989.0 2096.0,925.0 2123.7,897.0 2152.8,896.7"/>
<g transform="translate(1623.0,1091.2) rotate(-90)"><path d="M763 0L583 0L583 1147Q518 1085 412.5 1023Q307 961 223 930L223 1104Q374 1175 487 1276Q600 1377 647 1472L763 1472Z" transform="translate(0.00,0.00) scale(0.02488,-0.02222)" fill="#1d1d1b" stroke="#1d1d1b" stroke-width="45.0" stroke-linejoin="round"/><text class="xl" x="0" y="0" textLength="127.5" lengthAdjust="spacingAndGlyphs"><tspan style="fill:none;stroke:none">1</tspan>7<tspan style="fill:none;stroke:none">:</tspan>00</text><circle cx="63.6" cy="-22.3" r="3.3" fill="#1d1d1b"/><circle cx="63.6" cy="-4.4" r="3.3" fill="#1d1d1b"/></g>
<g transform="translate(2107.6,1091.2) rotate(-90)"><text class="xl" x="0" y="0" textLength="127.5" lengthAdjust="spacingAndGlyphs">23<tspan style="fill:none;stroke:none">:</tspan>00</text><circle cx="63.6" cy="-22.3" r="3.3" fill="#1d1d1b"/><circle cx="63.6" cy="-4.4" r="3.3" fill="#1d1d1b"/></g>
<text class="b" x="994.0" y="464.5" font-size="59" textLength="94.3" lengthAdjust="spacingAndGlyphs" stroke="#f4f4f4" stroke-width="4.2" fill="#f4f4f4" opacity="0.8">Mai</text>
<text class="b" x="1105.0" y="464.5" font-size="59" textLength="122.3" lengthAdjust="spacingAndGlyphs" stroke="#f4f4f4" stroke-width="4.2" fill="#f4f4f4" opacity="0.8">2020</text>
<text x="987.9" y="541.8" font-size="46" textLength="211.0" lengthAdjust="spacingAndGlyphs" stroke="#f4f4f4" stroke-width="3.4" fill="#f4f4f4" opacity="0.8">Dargestellt</text>
<text x="1211.3" y="541.8" font-size="46" textLength="45.4" lengthAdjust="spacingAndGlyphs" stroke="#f4f4f4" stroke-width="3.4" fill="#f4f4f4" opacity="0.8">ist</text>
<text x="1269.2" y="541.8" font-size="46" textLength="61.4" lengthAdjust="spacingAndGlyphs" stroke="#f4f4f4" stroke-width="3.4" fill="#f4f4f4" opacity="0.8">die</text>
<text x="1343.7" y="541.8" font-size="46" textLength="241.7" lengthAdjust="spacingAndGlyphs" stroke="#f4f4f4" stroke-width="3.4" fill="#f4f4f4" opacity="0.8">Abweichung</text>
<text x="1597.7" y="541.8" font-size="46" textLength="61.5" lengthAdjust="spacingAndGlyphs" stroke="#f4f4f4" stroke-width="3.4" fill="#f4f4f4" opacity="0.8">der</text>
<text x="1672.2" y="541.8" font-size="46" textLength="302.0" lengthAdjust="spacingAndGlyphs" stroke="#f4f4f4" stroke-width="3.4" fill="#f4f4f4" opacity="0.8">Kraftstoffpreise</text>
<text x="990.8" y="605.4" font-size="46" textLength="82.1" lengthAdjust="spacingAndGlyphs" stroke="#f4f4f4" stroke-width="3.4" fill="#f4f4f4" opacity="0.8">vom</text>
<text x="1082.9" y="605.4" font-size="46" textLength="313.6" lengthAdjust="spacingAndGlyphs" stroke="#f4f4f4" stroke-width="3.4" fill="#f4f4f4" opacity="0.8">Tagesmittelwert</text>
<text x="1409.3" y="605.4" font-size="46" textLength="36.5" lengthAdjust="spacingAndGlyphs" stroke="#f4f4f4" stroke-width="3.4" fill="#f4f4f4" opacity="0.8">in</text>
<text x="1457.5" y="605.4" font-size="46" textLength="90.9" lengthAdjust="spacingAndGlyphs" stroke="#f4f4f4" stroke-width="3.4" fill="#f4f4f4" opacity="0.8">Cent</text>
<text x="1563.3" y="605.4" font-size="46" textLength="52.8" lengthAdjust="spacingAndGlyphs" stroke="#f4f4f4" stroke-width="3.4" fill="#f4f4f4" opacity="0.8">für</text>
<text x="1628.2" y="605.4" font-size="46" textLength="119.6" lengthAdjust="spacingAndGlyphs" stroke="#f4f4f4" stroke-width="3.4" fill="#f4f4f4" opacity="0.8">Diesel</text>
<text x="1759.9" y="605.4" font-size="46" textLength="75.5" lengthAdjust="spacingAndGlyphs" stroke="#f4f4f4" stroke-width="3.4" fill="#f4f4f4" opacity="0.8">und</text>
<text x="1846.8" y="605.4" font-size="46" textLength="111.4" lengthAdjust="spacingAndGlyphs" stroke="#f4f4f4" stroke-width="3.4" fill="#f4f4f4" opacity="0.8">Super</text>
<text x="1972.3" y="605.4" font-size="46" textLength="75.3" lengthAdjust="spacingAndGlyphs" stroke="#f4f4f4" stroke-width="3.4" fill="#f4f4f4" opacity="0.8">E10</text>
<text x="1082.8" y="691.8" font-size="47" textLength="119.3" lengthAdjust="spacingAndGlyphs" stroke="#f4f4f4" stroke-width="4.5" fill="#f4f4f4" opacity="0.8">Diesel</text>
<text x="1311.7" y="691.8" font-size="47" textLength="114.9" lengthAdjust="spacingAndGlyphs" stroke="#f4f4f4" stroke-width="4.5" fill="#f4f4f4" opacity="0.8">Super</text>
<text x="1440.5" y="691.8" font-size="47" textLength="74.8" lengthAdjust="spacingAndGlyphs" stroke="#f4f4f4" stroke-width="4.5" fill="#f4f4f4" opacity="0.8">E10</text>
<text class="b" x="994.0" y="464.5" font-size="59" textLength="94.3" lengthAdjust="spacingAndGlyphs" stroke="#1d1d1b" stroke-width="0.8">Mai</text>
<text class="b" x="1105.0" y="464.5" font-size="59" textLength="122.3" lengthAdjust="spacingAndGlyphs" stroke="#1d1d1b" stroke-width="0.8">2020</text>
<text x="987.9" y="541.8" font-size="46" textLength="211.0" lengthAdjust="spacingAndGlyphs">Dargestellt</text>
<text x="1211.3" y="541.8" font-size="46" textLength="45.4" lengthAdjust="spacingAndGlyphs">ist</text>
<text x="1269.2" y="541.8" font-size="46" textLength="61.4" lengthAdjust="spacingAndGlyphs">die</text>
<text x="1343.7" y="541.8" font-size="46" textLength="241.7" lengthAdjust="spacingAndGlyphs">Abweichung</text>
<text x="1597.7" y="541.8" font-size="46" textLength="61.5" lengthAdjust="spacingAndGlyphs">der</text>
<text x="1672.2" y="541.8" font-size="46" textLength="302.0" lengthAdjust="spacingAndGlyphs">Kraftstoffpreise</text>
<text x="990.8" y="605.4" font-size="46" textLength="82.1" lengthAdjust="spacingAndGlyphs">vom</text>
<text x="1082.9" y="605.4" font-size="46" textLength="313.6" lengthAdjust="spacingAndGlyphs">Tagesmittelwert</text>
<text x="1409.3" y="605.4" font-size="46" textLength="36.5" lengthAdjust="spacingAndGlyphs">in</text>
<text x="1457.5" y="605.4" font-size="46" textLength="90.9" lengthAdjust="spacingAndGlyphs">Cent</text>
<text x="1563.3" y="605.4" font-size="46" textLength="52.8" lengthAdjust="spacingAndGlyphs">für</text>
<text x="1628.2" y="605.4" font-size="46" textLength="119.6" lengthAdjust="spacingAndGlyphs">Diesel</text>
<text x="1759.9" y="605.4" font-size="46" textLength="75.5" lengthAdjust="spacingAndGlyphs">und</text>
<text x="1846.8" y="605.4" font-size="46" textLength="111.4" lengthAdjust="spacingAndGlyphs">Super</text>
<text x="1972.3" y="605.4" font-size="46" textLength="75.3" lengthAdjust="spacingAndGlyphs">E10</text>
<line x1="995.8" y1="677.6" x2="1052.8" y2="677.6" stroke="#ca232a" stroke-width="13.1" stroke-linecap="round"/>
<line x1="1234.4" y1="679" x2="1290.4" y2="679" stroke="#2a7699" stroke-width="13.1" stroke-linecap="round"/>
<text x="1082.8" y="691.8" font-size="47" textLength="119.3" lengthAdjust="spacingAndGlyphs" stroke="#1d1d1b" stroke-width="1.1">Diesel</text>
<text x="1311.7" y="691.8" font-size="47" textLength="114.9" lengthAdjust="spacingAndGlyphs" stroke="#1d1d1b" stroke-width="1.1">Super</text>
<text x="1440.5" y="691.8" font-size="47" textLength="74.8" lengthAdjust="spacingAndGlyphs" stroke="#1d1d1b" stroke-width="1.1">E10</text>
<text class="ft" x="68.7" y="1510.8" font-size="34.5" textLength="91.8" lengthAdjust="spacingAndGlyphs" stroke="#949494" stroke-width="0.2">Quelle:</text>
<text class="ft" x="168.0" y="1510.8" font-size="34.5" textLength="202.5" lengthAdjust="spacingAndGlyphs" stroke="#949494" stroke-width="0.2">adac.de/tanken</text>
<text class="ft" x="1856.5" y="1503.3" font-size="33" textLength="98.0" lengthAdjust="spacingAndGlyphs" stroke="#949494" stroke-width="0.2">©ADAC</text>
<text class="ft" x="1962.4" y="1503.3" font-size="33" textLength="48.7" lengthAdjust="spacingAndGlyphs" stroke="#949494" stroke-width="0.2">e.V.</text>
<text class="ft" x="2026.3" y="1503.3" font-size="33" textLength="106.7" lengthAdjust="spacingAndGlyphs" stroke="#949494" stroke-width="0.2">06.2020</text>
</svg></body></html>
